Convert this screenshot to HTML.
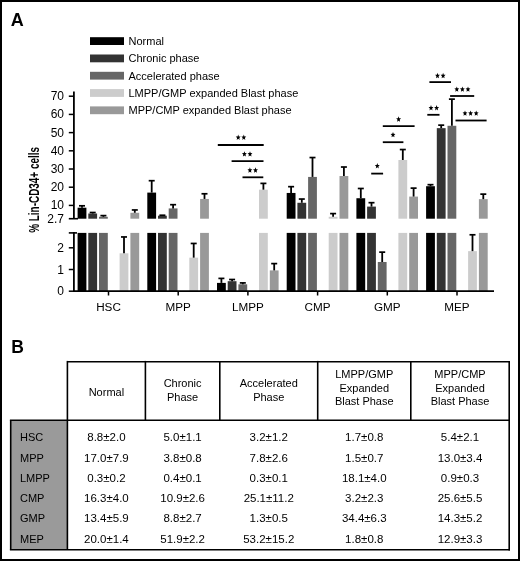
<!DOCTYPE html>
<html><head><meta charset="utf-8"><style>
html,body{margin:0;padding:0;background:#fff;}
body{width:520px;height:561px;overflow:hidden;position:relative;}
#frame{position:absolute;left:0;top:0;width:520px;height:561px;box-sizing:border-box;border:2px solid #000;}
svg{position:absolute;left:0;top:0;filter:blur(0.35px);}
text{font-family:"Liberation Sans", sans-serif;fill:#000;}
</style></head><body>
<svg width="520" height="561" viewBox="0 0 520 561">
<rect x="77.60" y="232.90" width="8.80" height="58.30" fill="#000000"/>
<rect x="77.60" y="207.70" width="8.80" height="11.00" fill="#000000"/>
<line x1="82.00" y1="205.80" x2="82.00" y2="207.70" stroke="#000" stroke-width="1.8"/>
<line x1="79.00" y1="205.80" x2="85.00" y2="205.80" stroke="#000" stroke-width="1.7"/>
<rect x="88.30" y="232.90" width="8.80" height="58.30" fill="#333333"/>
<rect x="88.30" y="213.51" width="8.80" height="5.19" fill="#333333"/>
<line x1="92.70" y1="212.51" x2="92.70" y2="213.51" stroke="#000" stroke-width="1.8"/>
<line x1="89.70" y1="212.51" x2="95.70" y2="212.51" stroke="#000" stroke-width="1.7"/>
<rect x="99.00" y="232.90" width="8.80" height="58.30" fill="#666666"/>
<rect x="99.00" y="216.79" width="8.80" height="1.91" fill="#666666"/>
<line x1="103.40" y1="215.61" x2="103.40" y2="216.79" stroke="#000" stroke-width="1.8"/>
<line x1="100.40" y1="215.61" x2="106.40" y2="215.61" stroke="#000" stroke-width="1.7"/>
<rect x="119.60" y="253.31" width="8.80" height="37.89" fill="#cccccc"/>
<line x1="124.00" y1="236.95" x2="124.00" y2="253.31" stroke="#000" stroke-width="1.8"/>
<line x1="121.00" y1="236.95" x2="127.00" y2="236.95" stroke="#000" stroke-width="1.7"/>
<rect x="130.40" y="232.90" width="8.80" height="58.30" fill="#999999"/>
<rect x="130.40" y="212.79" width="8.80" height="5.91" fill="#999999"/>
<line x1="134.80" y1="209.96" x2="134.80" y2="212.79" stroke="#000" stroke-width="1.8"/>
<line x1="131.80" y1="209.96" x2="137.80" y2="209.96" stroke="#000" stroke-width="1.7"/>
<rect x="147.30" y="232.90" width="8.80" height="58.30" fill="#000000"/>
<rect x="147.30" y="192.60" width="8.80" height="26.10" fill="#000000"/>
<line x1="151.70" y1="180.70" x2="151.70" y2="192.60" stroke="#000" stroke-width="1.8"/>
<line x1="148.70" y1="180.70" x2="154.70" y2="180.70" stroke="#000" stroke-width="1.7"/>
<rect x="158.00" y="232.90" width="8.80" height="58.30" fill="#333333"/>
<rect x="158.00" y="215.70" width="8.80" height="3.00" fill="#333333"/>
<line x1="162.40" y1="215.24" x2="162.40" y2="215.70" stroke="#000" stroke-width="1.8"/>
<line x1="159.40" y1="215.24" x2="165.40" y2="215.24" stroke="#000" stroke-width="1.7"/>
<rect x="168.70" y="232.90" width="8.80" height="58.30" fill="#666666"/>
<rect x="168.70" y="208.42" width="8.80" height="10.28" fill="#666666"/>
<line x1="173.10" y1="204.69" x2="173.10" y2="208.42" stroke="#000" stroke-width="1.8"/>
<line x1="170.10" y1="204.69" x2="176.10" y2="204.69" stroke="#000" stroke-width="1.7"/>
<rect x="189.30" y="257.65" width="8.80" height="33.55" fill="#cccccc"/>
<line x1="193.70" y1="243.46" x2="193.70" y2="257.65" stroke="#000" stroke-width="1.8"/>
<line x1="190.70" y1="243.46" x2="196.70" y2="243.46" stroke="#000" stroke-width="1.7"/>
<rect x="200.10" y="232.90" width="8.80" height="58.30" fill="#999999"/>
<rect x="200.10" y="198.95" width="8.80" height="19.75" fill="#999999"/>
<line x1="204.50" y1="193.77" x2="204.50" y2="198.95" stroke="#000" stroke-width="1.8"/>
<line x1="201.50" y1="193.77" x2="207.50" y2="193.77" stroke="#000" stroke-width="1.7"/>
<rect x="217.00" y="282.90" width="8.80" height="8.30" fill="#000000"/>
<line x1="221.40" y1="278.40" x2="221.40" y2="282.90" stroke="#000" stroke-width="1.8"/>
<line x1="218.40" y1="278.40" x2="224.40" y2="278.40" stroke="#000" stroke-width="1.7"/>
<rect x="227.70" y="281.20" width="8.80" height="10.00" fill="#333333"/>
<line x1="232.10" y1="279.50" x2="232.10" y2="281.20" stroke="#000" stroke-width="1.8"/>
<line x1="229.10" y1="279.50" x2="235.10" y2="279.50" stroke="#000" stroke-width="1.7"/>
<rect x="238.40" y="284.30" width="8.80" height="6.90" fill="#666666"/>
<line x1="242.80" y1="282.90" x2="242.80" y2="284.30" stroke="#000" stroke-width="1.8"/>
<line x1="239.80" y1="282.90" x2="245.80" y2="282.90" stroke="#000" stroke-width="1.7"/>
<rect x="259.00" y="232.90" width="8.80" height="58.30" fill="#cccccc"/>
<rect x="259.00" y="189.67" width="8.80" height="29.03" fill="#cccccc"/>
<line x1="263.40" y1="183.39" x2="263.40" y2="189.67" stroke="#000" stroke-width="1.8"/>
<line x1="260.40" y1="183.39" x2="266.40" y2="183.39" stroke="#000" stroke-width="1.7"/>
<rect x="269.80" y="270.40" width="8.80" height="20.80" fill="#999999"/>
<line x1="274.20" y1="263.60" x2="274.20" y2="270.40" stroke="#000" stroke-width="1.8"/>
<line x1="271.20" y1="263.60" x2="277.20" y2="263.60" stroke="#000" stroke-width="1.7"/>
<rect x="286.70" y="232.90" width="8.80" height="58.30" fill="#000000"/>
<rect x="286.70" y="192.95" width="8.80" height="25.75" fill="#000000"/>
<line x1="291.10" y1="186.67" x2="291.10" y2="192.95" stroke="#000" stroke-width="1.8"/>
<line x1="288.10" y1="186.67" x2="294.10" y2="186.67" stroke="#000" stroke-width="1.7"/>
<rect x="297.40" y="232.90" width="8.80" height="58.30" fill="#333333"/>
<rect x="297.40" y="202.78" width="8.80" height="15.92" fill="#333333"/>
<line x1="301.80" y1="199.04" x2="301.80" y2="202.78" stroke="#000" stroke-width="1.8"/>
<line x1="298.80" y1="199.04" x2="304.80" y2="199.04" stroke="#000" stroke-width="1.7"/>
<rect x="308.10" y="232.90" width="8.80" height="58.30" fill="#666666"/>
<rect x="308.10" y="176.93" width="8.80" height="41.77" fill="#666666"/>
<line x1="312.50" y1="157.55" x2="312.50" y2="176.93" stroke="#000" stroke-width="1.8"/>
<line x1="309.50" y1="157.55" x2="315.50" y2="157.55" stroke="#000" stroke-width="1.7"/>
<rect x="328.70" y="232.90" width="8.80" height="58.30" fill="#cccccc"/>
<rect x="328.70" y="216.79" width="8.80" height="1.91" fill="#cccccc"/>
<line x1="333.10" y1="213.60" x2="333.10" y2="216.79" stroke="#000" stroke-width="1.8"/>
<line x1="330.10" y1="213.60" x2="336.10" y2="213.60" stroke="#000" stroke-width="1.7"/>
<rect x="339.50" y="232.90" width="8.80" height="58.30" fill="#999999"/>
<rect x="339.50" y="176.02" width="8.80" height="42.68" fill="#999999"/>
<line x1="343.90" y1="167.01" x2="343.90" y2="176.02" stroke="#000" stroke-width="1.8"/>
<line x1="340.90" y1="167.01" x2="346.90" y2="167.01" stroke="#000" stroke-width="1.7"/>
<rect x="356.40" y="232.90" width="8.80" height="58.30" fill="#000000"/>
<rect x="356.40" y="198.23" width="8.80" height="20.47" fill="#000000"/>
<line x1="360.80" y1="188.49" x2="360.80" y2="198.23" stroke="#000" stroke-width="1.8"/>
<line x1="357.80" y1="188.49" x2="363.80" y2="188.49" stroke="#000" stroke-width="1.7"/>
<rect x="367.10" y="232.90" width="8.80" height="58.30" fill="#333333"/>
<rect x="367.10" y="206.60" width="8.80" height="12.10" fill="#333333"/>
<line x1="371.50" y1="202.68" x2="371.50" y2="206.60" stroke="#000" stroke-width="1.8"/>
<line x1="368.50" y1="202.68" x2="374.50" y2="202.68" stroke="#000" stroke-width="1.7"/>
<rect x="377.80" y="261.99" width="8.80" height="29.21" fill="#666666"/>
<line x1="382.20" y1="252.14" x2="382.20" y2="261.99" stroke="#000" stroke-width="1.8"/>
<line x1="379.20" y1="252.14" x2="385.20" y2="252.14" stroke="#000" stroke-width="1.7"/>
<rect x="398.40" y="232.90" width="8.80" height="58.30" fill="#cccccc"/>
<rect x="398.40" y="160.01" width="8.80" height="58.69" fill="#cccccc"/>
<line x1="402.80" y1="149.54" x2="402.80" y2="160.01" stroke="#000" stroke-width="1.8"/>
<line x1="399.80" y1="149.54" x2="405.80" y2="149.54" stroke="#000" stroke-width="1.7"/>
<rect x="409.20" y="232.90" width="8.80" height="58.30" fill="#999999"/>
<rect x="409.20" y="196.59" width="8.80" height="22.11" fill="#999999"/>
<line x1="413.60" y1="188.12" x2="413.60" y2="196.59" stroke="#000" stroke-width="1.8"/>
<line x1="410.60" y1="188.12" x2="416.60" y2="188.12" stroke="#000" stroke-width="1.7"/>
<rect x="426.10" y="232.90" width="8.80" height="58.30" fill="#000000"/>
<rect x="426.10" y="186.21" width="8.80" height="32.49" fill="#000000"/>
<line x1="430.50" y1="184.67" x2="430.50" y2="186.21" stroke="#000" stroke-width="1.8"/>
<line x1="427.50" y1="184.67" x2="433.50" y2="184.67" stroke="#000" stroke-width="1.7"/>
<rect x="436.80" y="232.90" width="8.80" height="58.30" fill="#333333"/>
<rect x="436.80" y="128.16" width="8.80" height="90.54" fill="#333333"/>
<line x1="441.20" y1="125.15" x2="441.20" y2="128.16" stroke="#000" stroke-width="1.8"/>
<line x1="438.20" y1="125.15" x2="444.20" y2="125.15" stroke="#000" stroke-width="1.7"/>
<rect x="447.50" y="232.90" width="8.80" height="58.30" fill="#666666"/>
<rect x="447.50" y="125.79" width="8.80" height="92.91" fill="#666666"/>
<line x1="451.90" y1="99.13" x2="451.90" y2="125.79" stroke="#000" stroke-width="1.8"/>
<line x1="448.90" y1="99.13" x2="454.90" y2="99.13" stroke="#000" stroke-width="1.7"/>
<rect x="468.10" y="251.14" width="8.80" height="40.06" fill="#cccccc"/>
<line x1="472.50" y1="234.78" x2="472.50" y2="251.14" stroke="#000" stroke-width="1.8"/>
<line x1="469.50" y1="234.78" x2="475.50" y2="234.78" stroke="#000" stroke-width="1.7"/>
<rect x="478.90" y="232.90" width="8.80" height="58.30" fill="#999999"/>
<rect x="478.90" y="199.14" width="8.80" height="19.56" fill="#999999"/>
<line x1="483.30" y1="194.13" x2="483.30" y2="199.14" stroke="#000" stroke-width="1.8"/>
<line x1="480.30" y1="194.13" x2="486.30" y2="194.13" stroke="#000" stroke-width="1.7"/>
<line x1="73.90" y1="91.60" x2="73.90" y2="218.70" stroke="#000" stroke-width="1.8"/>
<line x1="73.90" y1="232.10" x2="73.90" y2="291.20" stroke="#000" stroke-width="1.8"/>
<line x1="73.00" y1="291.20" x2="494.00" y2="291.20" stroke="#000" stroke-width="1.8"/>
<line x1="68.80" y1="205.41" x2="73.90" y2="205.41" stroke="#000" stroke-width="1.5"/>
<text x="64.00" y="209.41" font-size="12" text-anchor="end" >10</text>
<line x1="68.80" y1="187.21" x2="73.90" y2="187.21" stroke="#000" stroke-width="1.5"/>
<text x="64.00" y="191.21" font-size="12" text-anchor="end" >20</text>
<line x1="68.80" y1="169.01" x2="73.90" y2="169.01" stroke="#000" stroke-width="1.5"/>
<text x="64.00" y="173.01" font-size="12" text-anchor="end" >30</text>
<line x1="68.80" y1="150.81" x2="73.90" y2="150.81" stroke="#000" stroke-width="1.5"/>
<text x="64.00" y="154.81" font-size="12" text-anchor="end" >40</text>
<line x1="68.80" y1="132.61" x2="73.90" y2="132.61" stroke="#000" stroke-width="1.5"/>
<text x="64.00" y="136.61" font-size="12" text-anchor="end" >50</text>
<line x1="68.80" y1="114.41" x2="73.90" y2="114.41" stroke="#000" stroke-width="1.5"/>
<text x="64.00" y="118.41" font-size="12" text-anchor="end" >60</text>
<line x1="68.80" y1="96.21" x2="73.90" y2="96.21" stroke="#000" stroke-width="1.5"/>
<text x="64.00" y="100.21" font-size="12" text-anchor="end" >70</text>
<line x1="68.80" y1="218.70" x2="78.00" y2="218.70" stroke="#000" stroke-width="1.6"/>
<text x="64.00" y="222.90" font-size="12" text-anchor="end" >2.7</text>
<line x1="68.80" y1="232.90" x2="77.00" y2="232.90" stroke="#000" stroke-width="1.6"/>
<line x1="68.80" y1="291.20" x2="73.90" y2="291.20" stroke="#000" stroke-width="1.5"/>
<text x="64.00" y="295.20" font-size="12" text-anchor="end" >0</text>
<line x1="68.80" y1="269.50" x2="73.90" y2="269.50" stroke="#000" stroke-width="1.5"/>
<text x="64.00" y="273.50" font-size="12" text-anchor="end" >1</text>
<line x1="68.80" y1="247.80" x2="73.90" y2="247.80" stroke="#000" stroke-width="1.5"/>
<text x="64.00" y="251.80" font-size="12" text-anchor="end" >2</text>
<line x1="108.50" y1="291.20" x2="108.50" y2="295.50" stroke="#000" stroke-width="1.5"/>
<text x="108.50" y="310.90" font-size="11.7" text-anchor="middle" >HSC</text>
<line x1="178.20" y1="291.20" x2="178.20" y2="295.50" stroke="#000" stroke-width="1.5"/>
<text x="178.20" y="310.90" font-size="11.7" text-anchor="middle" >MPP</text>
<line x1="247.90" y1="291.20" x2="247.90" y2="295.50" stroke="#000" stroke-width="1.5"/>
<text x="247.90" y="310.90" font-size="11.7" text-anchor="middle" >LMPP</text>
<line x1="317.60" y1="291.20" x2="317.60" y2="295.50" stroke="#000" stroke-width="1.5"/>
<text x="317.60" y="310.90" font-size="11.7" text-anchor="middle" >CMP</text>
<line x1="387.30" y1="291.20" x2="387.30" y2="295.50" stroke="#000" stroke-width="1.5"/>
<text x="387.30" y="310.90" font-size="11.7" text-anchor="middle" >GMP</text>
<line x1="457.00" y1="291.20" x2="457.00" y2="295.50" stroke="#000" stroke-width="1.5"/>
<text x="457.00" y="310.90" font-size="11.7" text-anchor="middle" >MEP</text>
<line x1="217.80" y1="145.00" x2="263.70" y2="145.00" stroke="#000" stroke-width="1.8"/>
<polygon points="238.20,134.48 238.87,136.39 240.63,136.56 239.29,137.90 239.70,139.91 238.20,138.83 236.70,139.91 237.11,137.90 235.77,136.56 237.53,136.39" fill="#000"/>
<polygon points="243.80,134.48 244.47,136.39 246.23,136.56 244.89,137.90 245.30,139.91 243.80,138.83 242.30,139.91 242.71,137.90 241.37,136.56 243.13,136.39" fill="#000"/>
<line x1="231.60" y1="161.10" x2="263.50" y2="161.10" stroke="#000" stroke-width="1.8"/>
<polygon points="244.40,151.19 245.07,153.09 246.83,153.26 245.49,154.60 245.90,156.61 244.40,155.53 242.90,156.61 243.31,154.60 241.97,153.26 243.73,153.09" fill="#000"/>
<polygon points="250.00,151.19 250.67,153.09 252.43,153.26 251.09,154.60 251.50,156.61 250.00,155.53 248.50,156.61 248.91,154.60 247.57,153.26 249.33,153.09" fill="#000"/>
<line x1="242.50" y1="177.30" x2="263.30" y2="177.30" stroke="#000" stroke-width="1.8"/>
<polygon points="249.90,167.28 250.57,169.19 252.33,169.36 250.99,170.70 251.40,172.71 249.90,171.63 248.40,172.71 248.81,170.70 247.47,169.36 249.23,169.19" fill="#000"/>
<polygon points="255.50,167.28 256.17,169.19 257.93,169.36 256.59,170.70 257.00,172.71 255.50,171.63 254.00,172.71 254.41,170.70 253.07,169.36 254.83,169.19" fill="#000"/>
<line x1="382.80" y1="126.20" x2="414.60" y2="126.20" stroke="#000" stroke-width="1.8"/>
<polygon points="398.60,116.28 399.27,118.19 401.03,118.36 399.69,119.70 400.10,121.71 398.60,120.63 397.10,121.71 397.51,119.70 396.17,118.36 397.93,118.19" fill="#000"/>
<line x1="382.80" y1="142.20" x2="403.40" y2="142.20" stroke="#000" stroke-width="1.8"/>
<polygon points="393.00,131.88 393.67,133.79 395.43,133.96 394.09,135.30 394.50,137.31 393.00,136.23 391.50,137.31 391.91,135.30 390.57,133.96 392.33,133.79" fill="#000"/>
<line x1="371.20" y1="173.60" x2="383.10" y2="173.60" stroke="#000" stroke-width="1.8"/>
<polygon points="377.30,162.98 377.97,164.89 379.73,165.06 378.39,166.40 378.80,168.41 377.30,167.33 375.80,168.41 376.21,166.40 374.87,165.06 376.63,164.89" fill="#000"/>
<line x1="429.40" y1="82.10" x2="451.00" y2="82.10" stroke="#000" stroke-width="1.8"/>
<polygon points="437.50,72.78 438.17,74.69 439.93,74.86 438.59,76.20 439.00,78.21 437.50,77.13 436.00,78.21 436.41,76.20 435.07,74.86 436.83,74.69" fill="#000"/>
<polygon points="443.10,72.78 443.77,74.69 445.53,74.86 444.19,76.20 444.60,78.21 443.10,77.13 441.60,78.21 442.01,76.20 440.67,74.86 442.43,74.69" fill="#000"/>
<line x1="450.10" y1="96.00" x2="474.20" y2="96.00" stroke="#000" stroke-width="1.8"/>
<polygon points="456.80,86.38 457.47,88.29 459.23,88.46 457.89,89.80 458.30,91.81 456.80,90.73 455.30,91.81 455.71,89.80 454.37,88.46 456.13,88.29" fill="#000"/>
<polygon points="462.40,86.38 463.07,88.29 464.83,88.46 463.49,89.80 463.90,91.81 462.40,90.73 460.90,91.81 461.31,89.80 459.97,88.46 461.73,88.29" fill="#000"/>
<polygon points="468.00,86.38 468.67,88.29 470.43,88.46 469.09,89.80 469.50,91.81 468.00,90.73 466.50,91.81 466.91,89.80 465.57,88.46 467.33,88.29" fill="#000"/>
<line x1="427.30" y1="114.80" x2="439.50" y2="114.80" stroke="#000" stroke-width="1.8"/>
<polygon points="431.00,104.98 431.67,106.89 433.43,107.06 432.09,108.40 432.50,110.41 431.00,109.33 429.50,110.41 429.91,108.40 428.57,107.06 430.33,106.89" fill="#000"/>
<polygon points="436.60,104.98 437.27,106.89 439.03,107.06 437.69,108.40 438.10,110.41 436.60,109.33 435.10,110.41 435.51,108.40 434.17,107.06 435.93,106.89" fill="#000"/>
<line x1="455.50" y1="120.50" x2="486.60" y2="120.50" stroke="#000" stroke-width="1.8"/>
<polygon points="465.00,110.38 465.67,112.29 467.43,112.46 466.09,113.80 466.50,115.81 465.00,114.73 463.50,115.81 463.91,113.80 462.57,112.46 464.33,112.29" fill="#000"/>
<polygon points="470.60,110.38 471.27,112.29 473.03,112.46 471.69,113.80 472.10,115.81 470.60,114.73 469.10,115.81 469.51,113.80 468.17,112.46 469.93,112.29" fill="#000"/>
<polygon points="476.20,110.38 476.87,112.29 478.63,112.46 477.29,113.80 477.70,115.81 476.20,114.73 474.70,115.81 475.11,113.80 473.77,112.46 475.53,112.29" fill="#000"/>
<rect x="90.00" y="37.20" width="34.00" height="7.80" fill="#000000"/>
<text x="128.50" y="45.10" font-size="11" text-anchor="start" >Normal</text>
<rect x="90.00" y="54.50" width="34.00" height="7.80" fill="#333333"/>
<text x="128.50" y="62.40" font-size="11" text-anchor="start" >Chronic phase</text>
<rect x="90.00" y="71.80" width="34.00" height="7.80" fill="#666666"/>
<text x="128.50" y="79.70" font-size="11" text-anchor="start" >Accelerated phase</text>
<rect x="90.00" y="89.10" width="34.00" height="7.80" fill="#cccccc"/>
<text x="128.50" y="97.00" font-size="11" text-anchor="start" >LMPP/GMP expanded Blast phase</text>
<rect x="90.00" y="106.40" width="34.00" height="7.80" fill="#999999"/>
<text x="128.50" y="114.30" font-size="11" text-anchor="start" >MPP/CMP expanded Blast phase</text>
<text transform="translate(38.8,232.8) rotate(-90) scale(0.71,1)" font-size="14" font-weight="bold" x="0" y="0">% Lin-CD34+ cells</text>
<text x="10.80" y="26.00" font-size="18" text-anchor="start" font-weight="bold">A</text>
<text x="11.20" y="352.80" font-size="17.5" text-anchor="start" font-weight="bold">B</text>
<rect x="10.70" y="420.30" width="56.70" height="129.40" fill="#9a9a9a"/>
<line x1="67.40" y1="361.70" x2="509.20" y2="361.70" stroke="#000" stroke-width="1.6"/>
<line x1="67.40" y1="360.90" x2="67.40" y2="420.30" stroke="#000" stroke-width="1.6"/>
<line x1="145.40" y1="360.90" x2="145.40" y2="420.30" stroke="#000" stroke-width="1.6"/>
<line x1="219.80" y1="360.90" x2="219.80" y2="420.30" stroke="#000" stroke-width="1.6"/>
<line x1="317.70" y1="360.90" x2="317.70" y2="420.30" stroke="#000" stroke-width="1.6"/>
<line x1="410.80" y1="360.90" x2="410.80" y2="420.30" stroke="#000" stroke-width="1.6"/>
<line x1="509.20" y1="360.90" x2="509.20" y2="420.30" stroke="#000" stroke-width="1.6"/>
<line x1="9.90" y1="420.30" x2="510.00" y2="420.30" stroke="#000" stroke-width="1.6"/>
<line x1="10.70" y1="420.30" x2="10.70" y2="549.70" stroke="#000" stroke-width="1.6"/>
<line x1="67.40" y1="420.30" x2="67.40" y2="549.70" stroke="#000" stroke-width="1.6"/>
<line x1="509.20" y1="420.30" x2="509.20" y2="550.50" stroke="#000" stroke-width="1.6"/>
<line x1="9.90" y1="549.70" x2="510.00" y2="549.70" stroke="#000" stroke-width="1.6"/>
<text x="106.40" y="395.80" font-size="11" text-anchor="middle" >Normal</text>
<text x="182.60" y="387.20" font-size="11" text-anchor="middle" >Chronic</text>
<text x="182.60" y="400.60" font-size="11" text-anchor="middle" >Phase</text>
<text x="268.75" y="387.20" font-size="11" text-anchor="middle" >Accelerated</text>
<text x="268.75" y="400.60" font-size="11" text-anchor="middle" >Phase</text>
<text x="364.25" y="377.90" font-size="11" text-anchor="middle" >LMPP/GMP</text>
<text x="364.25" y="391.60" font-size="11" text-anchor="middle" >Expanded</text>
<text x="364.25" y="405.20" font-size="11" text-anchor="middle" >Blast Phase</text>
<text x="460.00" y="377.90" font-size="11" text-anchor="middle" >MPP/CMP</text>
<text x="460.00" y="391.60" font-size="11" text-anchor="middle" >Expanded</text>
<text x="460.00" y="405.20" font-size="11" text-anchor="middle" >Blast Phase</text>
<text x="20.00" y="441.30" font-size="11" text-anchor="start" >HSC</text>
<text x="106.40" y="441.30" font-size="11.5" text-anchor="middle" >8.8±2.0</text>
<text x="182.60" y="441.30" font-size="11.5" text-anchor="middle" >5.0±1.1</text>
<text x="268.75" y="441.30" font-size="11.5" text-anchor="middle" >3.2±1.2</text>
<text x="364.25" y="441.30" font-size="11.5" text-anchor="middle" >1.7±0.8</text>
<text x="460.00" y="441.30" font-size="11.5" text-anchor="middle" >5.4±2.1</text>
<text x="20.00" y="461.55" font-size="11" text-anchor="start" >MPP</text>
<text x="106.40" y="461.55" font-size="11.5" text-anchor="middle" >17.0±7.9</text>
<text x="182.60" y="461.55" font-size="11.5" text-anchor="middle" >3.8±0.8</text>
<text x="268.75" y="461.55" font-size="11.5" text-anchor="middle" >7.8±2.6</text>
<text x="364.25" y="461.55" font-size="11.5" text-anchor="middle" >1.5±0.7</text>
<text x="460.00" y="461.55" font-size="11.5" text-anchor="middle" >13.0±3.4</text>
<text x="20.00" y="481.80" font-size="11" text-anchor="start" >LMPP</text>
<text x="106.40" y="481.80" font-size="11.5" text-anchor="middle" >0.3±0.2</text>
<text x="182.60" y="481.80" font-size="11.5" text-anchor="middle" >0.4±0.1</text>
<text x="268.75" y="481.80" font-size="11.5" text-anchor="middle" >0.3±0.1</text>
<text x="364.25" y="481.80" font-size="11.5" text-anchor="middle" >18.1±4.0</text>
<text x="460.00" y="481.80" font-size="11.5" text-anchor="middle" >0.9±0.3</text>
<text x="20.00" y="502.05" font-size="11" text-anchor="start" >CMP</text>
<text x="106.40" y="502.05" font-size="11.5" text-anchor="middle" >16.3±4.0</text>
<text x="182.60" y="502.05" font-size="11.5" text-anchor="middle" >10.9±2.6</text>
<text x="268.75" y="502.05" font-size="11.5" text-anchor="middle" >25.1±11.2</text>
<text x="364.25" y="502.05" font-size="11.5" text-anchor="middle" >3.2±2.3</text>
<text x="460.00" y="502.05" font-size="11.5" text-anchor="middle" >25.6±5.5</text>
<text x="20.00" y="522.30" font-size="11" text-anchor="start" >GMP</text>
<text x="106.40" y="522.30" font-size="11.5" text-anchor="middle" >13.4±5.9</text>
<text x="182.60" y="522.30" font-size="11.5" text-anchor="middle" >8.8±2.7</text>
<text x="268.75" y="522.30" font-size="11.5" text-anchor="middle" >1.3±0.5</text>
<text x="364.25" y="522.30" font-size="11.5" text-anchor="middle" >34.4±6.3</text>
<text x="460.00" y="522.30" font-size="11.5" text-anchor="middle" >14.3±5.2</text>
<text x="20.00" y="542.55" font-size="11" text-anchor="start" >MEP</text>
<text x="106.40" y="542.55" font-size="11.5" text-anchor="middle" >20.0±1.4</text>
<text x="182.60" y="542.55" font-size="11.5" text-anchor="middle" >51.9±2.2</text>
<text x="268.75" y="542.55" font-size="11.5" text-anchor="middle" >53.2±15.2</text>
<text x="364.25" y="542.55" font-size="11.5" text-anchor="middle" >1.8±0.8</text>
<text x="460.00" y="542.55" font-size="11.5" text-anchor="middle" >12.9±3.3</text>
</svg>
<div id="frame"></div>
</body></html>
